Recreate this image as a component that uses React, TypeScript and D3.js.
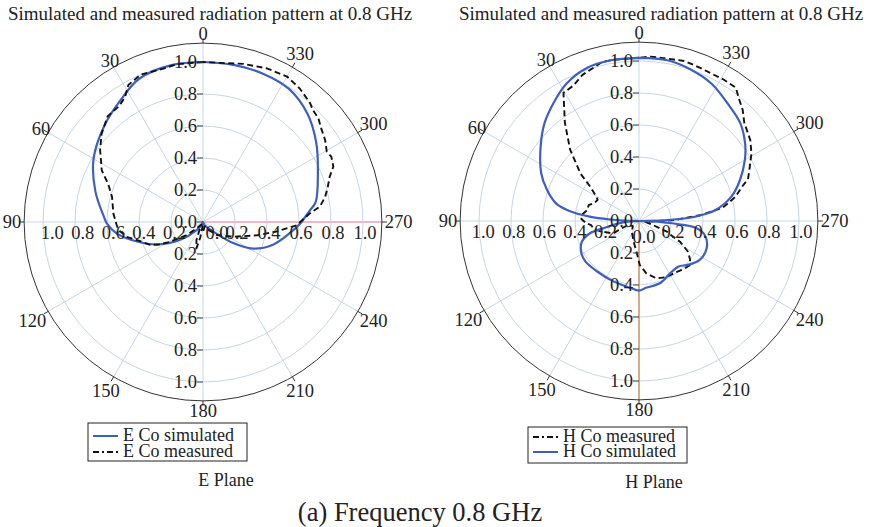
import React from 'react';
import * as d3 from 'd3';

type Pt = [number, number]; // [angle in degrees, counter-clockwise from top; normalised amplitude]

const angleTicks = [0, 30, 60, 90, 120, 150, 180, 210, 240, 270, 300, 330];
const gridRings = [0.2, 0.4, 0.6, 0.8, 1.0];
const upLabels = ['0.0', '0.2', '0.4', '0.6', '0.8', '1.0'];
const downLabels = ['0.2', '0.4', '0.6', '0.8', '1.0'];
const leftLabels = ['0.2', '0.4', '0.6', '0.8', '1.0'];
const rightLabels = ['0.0', '0.2', '0.4', '0.6', '0.8', '1.0'];

const eSimulated: Pt[] = [
  [0, 1.0], [11, 1.0], [24, 0.98], [34, 0.92], [46, 0.86], [60, 0.79], [74, 0.7], [87, 0.62],
  [91, 0.6], [97.5, 0.545], [106.5, 0.43], [116, 0.32], [128, 0.18], [142, 0.064], [155, 0.02],
  [180, 0], [205, 0.02], [220, 0.05], [227, 0.088], [235, 0.23], [242, 0.355], [252, 0.46],
  [263, 0.55], [269, 0.606], [276, 0.67], [280, 0.715], [293, 0.78], [305, 0.864], [316, 0.94],
  [327, 0.99], [338, 1.0], [349, 1.0], [360, 1.0],
];

const eMeasured: Pt[] = [
  [0, 1.0], [9.5, 1.0], [14.5, 0.99], [23, 1.0], [28.6, 0.975], [32, 0.92], [36, 0.894], [42, 0.89],
  [49, 0.84], [55, 0.785], [63, 0.71], [68, 0.64], [74.5, 0.59], [84.5, 0.563], [92, 0.54],
  [95.4, 0.53], [101, 0.486], [107, 0.41], [113.5, 0.36], [117, 0.31], [121, 0.24], [128.6, 0.13],
  [135, 0.056], [145, 0.02], [160, 0.12], [166, 0.17], [170, 0.1], [175, 0.02], [185, 0.05],
  [200, 0.03], [215, 0.06], [226.5, 0.118], [244, 0.21], [256, 0.345], [262.5, 0.46], [268, 0.586],
  [274.6, 0.67], [277.5, 0.737], [281.7, 0.78], [285.7, 0.81], [289.6, 0.84], [293, 0.885],
  [297, 0.9], [299.6, 0.89], [304, 0.92], [308, 0.94], [312, 0.97], [315.4, 0.98], [318, 1.0],
  [324, 1.03], [330, 1.05], [337.5, 1.04], [345.7, 1.02], [354, 1.0], [360, 1.0],
];

const hMeasured: Pt[] = [
  [0, 1.02], [9, 1.02], [13, 1.02], [21, 0.98], [26, 0.94], [30.5, 0.93], [37, 0.77], [44, 0.62],
  [51, 0.47], [55, 0.37], [60, 0.31], [63, 0.29], [68, 0.3], [72.5, 0.33], [78, 0.33], [84, 0.36],
  [88, 0.36], [92.5, 0.33], [95, 0.3], [99, 0.29], [105, 0.25], [115.6, 0.18], [113, 0.12],
  [110, 0.07], [130, 0.05], [145.7, 0.08], [164.6, 0.13], [176, 0.2], [181, 0.275], [188, 0.33],
  [197, 0.375], [206, 0.39], [216, 0.395], [223, 0.41], [229, 0.42], [233, 0.4], [238, 0.36],
  [243, 0.29], [246, 0.22], [249, 0.19], [254, 0.09], [262, 0.04], [268, 0.08], [271.6, 0.225],
  [275.5, 0.39], [279, 0.53], [284, 0.62], [288.5, 0.68], [291, 0.73], [296, 0.77], [301, 0.82],
  [306, 0.86], [313, 0.9], [317, 0.95], [321, 0.99], [324, 1.03], [329, 1.03], [338, 1.03],
  [344, 1.04], [350, 1.03], [356, 1.03], [360, 1.02],
];

const hSimulated: Pt[] = [
  [0, 1.02], [10, 1.02], [19, 1.01], [28, 0.97], [36, 0.91], [44, 0.85], [53, 0.77], [64, 0.68],
  [71, 0.61], [78, 0.53], [82, 0.435], [85, 0.31], [87, 0.18], [89, 0.06], [90, 0], [95, 0.1],
  [101.6, 0.23], [104, 0.316], [110, 0.38], [118, 0.41], [127, 0.42], [140, 0.41], [157, 0.41],
  [172, 0.42], [180, 0.435], [186, 0.42], [199, 0.41], [211, 0.38], [221, 0.377], [228, 0.41],
  [237, 0.45], [248, 0.456], [258, 0.42], [263, 0.36], [265, 0.28], [266.5, 0.17], [268.5, 0.06],
  [270, 0], [272, 0.18], [274.4, 0.35], [278, 0.48], [285, 0.6], [292, 0.68], [300, 0.764],
  [306, 0.82], [314, 0.88], [323, 0.92], [332, 0.97], [341, 1.0], [350, 1.02], [360, 1.02],
];

const titleText = 'Simulated and measured radiation pattern at 0.8 GHz';
const captionText = '(a) Frequency 0.8 GHz';

const FONT = '"Liberation Serif", "Times New Roman", serif';
const BLUE = '#3d5fc0';
const GRID = '#c6d6e6';
const TEXT = '#222';

const rScale = d3.scaleLinear().domain([0, 1]).range([0, 160]);
const OUTER = 1.118;

interface SeriesDef {
  name: string;
  data: Pt[];
  kind: 'sim' | 'meas';
}

interface PanelProps {
  cx: number;
  cy: number;
  series: SeriesDef[];
  accent: { angle: number; color: string };
  rightZeroDx: number;
  rightZeroDy: number;
  leftShift: number;
}

const simLine = d3
  .lineRadial<Pt>()
  .angle((d) => (-d[0] * Math.PI) / 180)
  .radius((d) => rScale(d[1]))
  .curve(d3.curveCatmullRom.alpha(0.5));

const measLine = d3
  .lineRadial<Pt>()
  .angle((d) => (-d[0] * Math.PI) / 180)
  .radius((d) => rScale(d[1]))
  .curve(d3.curveLinear);

function dir(deg: number) {
  const a = (deg * Math.PI) / 180;
  return { x: -Math.sin(a), y: -Math.cos(a) };
}

function PolarPanel({ cx, cy, series, accent, rightZeroDx, rightZeroDy, leftShift }: PanelProps) {
  const Rpx = rScale(OUTER);
  const fs = 18.5;
  const ad = dir(accent.angle);
  return (
    <g>
      {gridRings.map((g) => (
        <circle key={g} cx={cx} cy={cy} r={rScale(g)} fill="none" stroke={GRID} strokeWidth={1} />
      ))}
      {angleTicks.map((a) => {
        const d = dir(a);
        return (
          <line key={a} x1={cx} y1={cy} x2={cx + d.x * Rpx} y2={cy + d.y * Rpx} stroke={GRID} strokeWidth={1} />
        );
      })}
      <line x1={cx} y1={cy} x2={cx + ad.x * Rpx} y2={cy + ad.y * Rpx} stroke={accent.color} strokeWidth={1.3} />
      <circle cx={cx} cy={cy} r={Rpx} fill="none" stroke="#333" strokeWidth={1} />
      {angleTicks.map((a) => {
        const d = dir(a);
        const label = String(a);
        const w = 9.2 * label.length;
        const h = 13;
        let rr = Rpx + 3 + 0.5 * (w * Math.abs(d.x) + h * Math.abs(d.y));
        if (label.length === 2 && a % 90 !== 0) rr -= 6;
        return (
          <g key={a}>
            <line x1={cx + d.x * Rpx} y1={cy + d.y * Rpx} x2={cx + d.x * (Rpx + 5)} y2={cy + d.y * (Rpx + 5)} stroke="#333" strokeWidth={1} />
            <text x={cx + d.x * rr} y={cy + d.y * rr} dy="0.35em" textAnchor="middle" fontSize={fs} fill={TEXT}>
              {label}
            </text>
          </g>
        );
      })}
      {series.map((s) => (
        <path
          key={s.name}
          d={(s.kind === 'sim' ? simLine : measLine)(s.data) || ''}
          transform={`translate(${cx},${cy})`}
          fill="none"
          stroke={s.kind === 'sim' ? BLUE : '#111'}
          strokeWidth={s.kind === 'sim' ? 2.2 : 1.9}
          strokeDasharray={s.kind === 'sim' ? undefined : '6,3.5'}
          strokeLinejoin="round"
        />
      ))}
      {upLabels.map((l) => {
        const y = cy - rScale(+l);
        return (
          <g key={'u' + l}>
            <line x1={cx - 6} x2={cx} y1={y} y2={y} stroke="#444" strokeWidth={1} />
            <text x={cx - 6} y={y} dy="0.35em" textAnchor="end" fontSize={fs} fill={TEXT}>
              {l}
            </text>
          </g>
        );
      })}
      {downLabels.map((l) => {
        const y = cy + rScale(+l);
        return (
          <g key={'d' + l}>
            <line x1={cx - 6} x2={cx} y1={y} y2={y} stroke="#444" strokeWidth={1} />
            <text x={cx - 6} y={y} dy="0.35em" textAnchor="end" fontSize={fs} fill={TEXT}>
              {l}
            </text>
          </g>
        );
      })}
      {leftLabels.map((l) => (
        <text key={'l' + l} x={cx - rScale(+l) * 0.955 + leftShift} y={cy + 11} dy="0.35em" textAnchor="middle" fontSize={fs} fill={TEXT}>
          {l}
        </text>
      ))}
      {rightLabels.map((l) => {
        const v = +l;
        const x = v === 0 ? cx + rightZeroDx : cx + rScale(v) + 2;
        const y = v === 0 ? cy + 11 + rightZeroDy : cy + 11;
        return (
          <text key={'r' + l} x={x} y={y} dy="0.35em" textAnchor="middle" fontSize={fs} fill={TEXT}>
            {l}
          </text>
        );
      })}
    </g>
  );
}

interface LegendProps {
  x: number;
  y: number;
  w: number;
  h: number;
  items: SeriesDef[];
  rowY: number[];
}

function Legend({ x, y, w, h, items, rowY }: LegendProps) {
  return (
    <g>
      <rect x={x} y={y} width={w} height={h} fill="#fff" stroke="#222" strokeWidth={1} />
      {items.map((s, i) => (
        <g key={s.name}>
          <line
            x1={x + 5}
            x2={x + 30}
            y1={rowY[i] - 5}
            y2={rowY[i] - 5}
            stroke={s.kind === 'sim' ? BLUE : '#111'}
            strokeWidth={2}
            strokeDasharray={s.kind === 'sim' ? undefined : '6,3,2,3'}
          />
          <text x={x + 35} y={rowY[i]} fontSize={18} fill={TEXT}>
            {s.name}
          </text>
        </g>
      ))}
    </g>
  );
}

export default function App() {
  const eSeries: SeriesDef[] = [
    { name: 'E Co simulated', data: eSimulated, kind: 'sim' },
    { name: 'E Co measured', data: eMeasured, kind: 'meas' },
  ];
  const hSeries: SeriesDef[] = [
    { name: 'H Co measured', data: hMeasured, kind: 'meas' },
    { name: 'H Co simulated', data: hSimulated, kind: 'sim' },
  ];
  return (
    <svg
      width={892}
      height={527}
      viewBox="0 0 892 527"
      style={{ position: 'absolute', left: 0, top: 0, background: '#fff', fontFamily: FONT }}
    >
      <rect x={0} y={0} width={892} height={527} fill="#fff" />
      <text x={210} y={20} textAnchor="middle" fontSize={19} fill={TEXT}>
        {titleText}
      </text>
      <text x={661} y={20} textAnchor="middle" fontSize={19} fill={TEXT}>
        {titleText}
      </text>
      <PolarPanel cx={203} cy={222} series={eSeries} accent={{ angle: 270, color: '#eeaab4' }} rightZeroDx={14} rightZeroDy={0} leftShift={2} />
      <PolarPanel cx={639} cy={221} series={hSeries} accent={{ angle: 180, color: '#d8844e' }} rightZeroDx={5} rightZeroDy={5} leftShift={-3} />
      <Legend x={88} y={423} w={159} h={38} items={eSeries} rowY={[441, 457]} />
      <Legend x={528} y={427} w={159} h={36} items={hSeries} rowY={[442, 457]} />
      <text x={226} y={486} textAnchor="middle" fontSize={18} fill={TEXT}>
        E Plane
      </text>
      <text x={654} y={488} textAnchor="middle" fontSize={18} fill={TEXT}>
        H Plane
      </text>
      <text x={420} y={521} textAnchor="middle" fontSize={26.5} fill={TEXT}>
        {captionText}
      </text>
    </svg>
  );
}
